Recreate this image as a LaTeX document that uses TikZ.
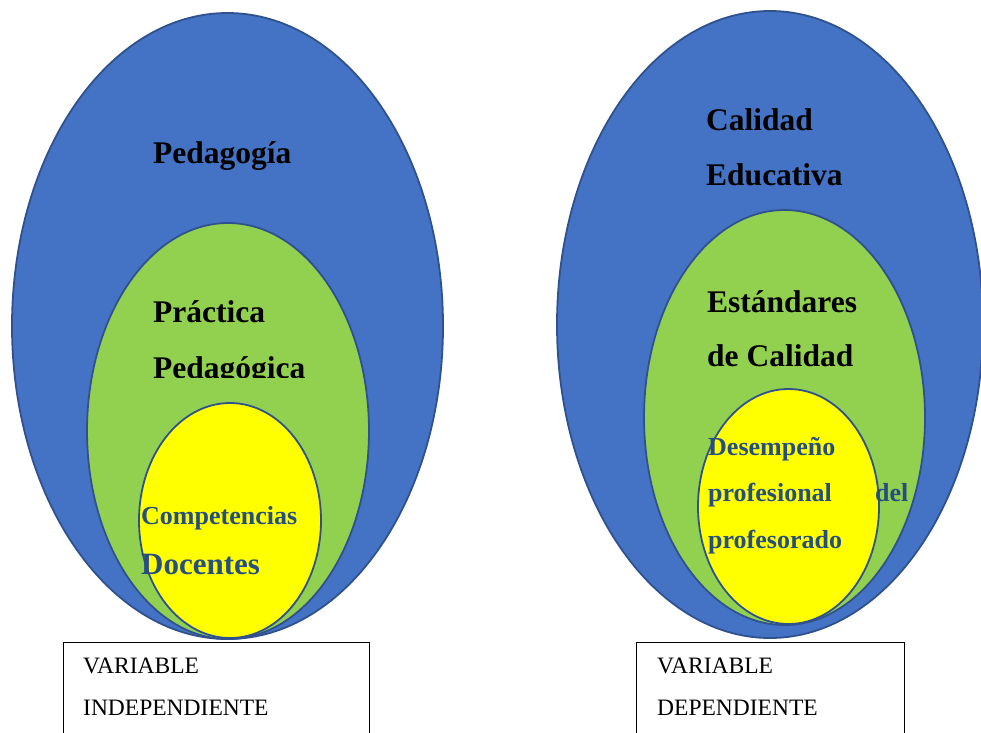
\documentclass[tikz,border=0pt]{standalone}
\usepackage{fontspec}
\setmainfont{Liberation Serif}
\usepackage{tikz}
\usetikzlibrary{shapes.geometric,positioning}

\definecolor{outerblue}{RGB}{68,114,196}
\definecolor{rimblue}{RGB}{47,82,143}
\definecolor{midgreen}{RGB}{146,208,80}
\definecolor{coreyellow}{RGB}{255,255,0}
\definecolor{innerblue}{RGB}{38,78,128}

\begin{document}
\begin{tikzpicture}[x=1pt,y=-1pt,
  ring/.style={ellipse, draw=rimblue, line width=1.8pt, inner sep=0pt},
  big/.style={inner sep=0pt, anchor=base west, font=\bfseries\fontsize{31.5}{36}\selectfont},
  small/.style={inner sep=0pt, anchor=base west, text=innerblue, font=\bfseries\fontsize{26}{30}\selectfont},
  varbox/.style={draw, line width=1pt},
  vartext/.style={inner sep=0pt, anchor=base west, font=\fontsize{23.5}{27}\selectfont}]

  \clip (0,0) rectangle (981,732);

  % Ellipses
  \node[ring, fill=outerblue, minimum width=431, minimum height=626] (pedag) at (227.5,326) {};
  \node[ring, fill=midgreen, minimum width=282, minimum height=416] (practica) at (228,431) {};
  \node[ring, fill=coreyellow, minimum width=182, minimum height=235] (compet) at (230,520.5) {};

  \node[ring, fill=outerblue, minimum width=426, minimum height=627] (calidad) at (770,324.5) {};
  \node[ring, fill=midgreen, minimum width=281, minimum height=415] (estandar) at (784.5,417.5) {};
  \node[ring, fill=coreyellow, minimum width=181, minimum height=235] (desemp) at (788.5,506.5) {};

  % Texts
  \node[big] (t1) at (153,163) {Pedagogía};
  \node[big] (t2) at (153,322) {Práctica};
  \begin{scope}
    \clip (100,300) rectangle (360,377);
    \node[big] (t3) at (153,378) {Pedagógica};
  \end{scope}
  \node[small] (t4) at (141,524) {Competencias};
  \node[small, font=\bfseries\fontsize{31}{36}\selectfont] (t5) at (141,574) {Docentes};

  \node[big] (t6) at (706,130) {Calidad};
  \node[big] (t7) at (706,185) {Educativa};
  \node[big] (t8) at (707,312) {Estándares};
  \node[big] (t9) at (707,366) {de Calidad};
  \node[small] (t10) at (708,455) {Desempeño};
  \node[small] (t11) at (708,501) {profesional};
  \node[small] (t12) at (875,501) {del};
  \node[small] (t13) at (708,548) {profesorado};

  % Boxes
  \draw[varbox] (63,642) rectangle (369,745);
  \draw[varbox] (636,642) rectangle (904,745);
  \node[vartext] (v1) at (83,673) {VARIABLE};
  \node[vartext] (v2) at (83,715) {INDEPENDIENTE};
  \node[vartext] (v3) at (657,673) {VARIABLE};
  \node[vartext] (v4) at (657,715) {DEPENDIENTE};

\end{tikzpicture}
\end{document}
